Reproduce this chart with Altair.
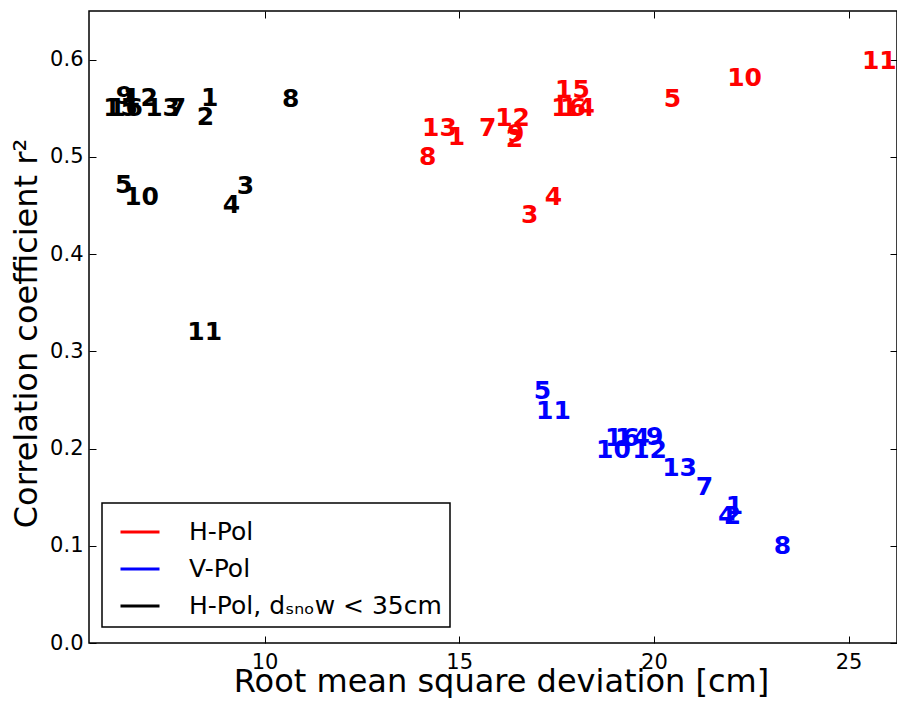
import altair as alt
import pandas as pd

# H-Pol (red)
labels_h = [1, 2, 3, 4, 5, 7, 8, 9, 10, 11, 12, 13, 14, 15, 16]
rmsd_h = [14.93, 16.42, 16.81, 17.42, 20.48, 15.73, 14.19, 16.45, 22.33, 25.79, 16.37, 14.49, 18.04, 17.91, 17.81]
r2_h = [0.520, 0.518, 0.440, 0.459, 0.560, 0.530, 0.500, 0.523, 0.581, 0.599, 0.540, 0.530, 0.550, 0.569, 0.550]

# V-Pol (blue)
labels_v = [1, 2, 4, 5, 7, 8, 9, 10, 11, 12, 13, 14, 16]
rmsd_v = [22.07, 22.02, 21.87, 17.14, 21.30, 23.30, 20.02, 18.96, 17.42, 19.89, 20.66, 19.45, 19.19]
r2_v = [0.141, 0.131, 0.131, 0.259, 0.160, 0.100, 0.212, 0.198, 0.239, 0.198, 0.180, 0.211, 0.211]

# H-Pol, d_snow < 35cm (black)
labels_s = [1, 2, 3, 4, 5, 7, 8, 9, 10, 11, 12, 13, 15, 16]
rmsd_s = [8.59, 8.48, 9.51, 9.15, 6.38, 7.76, 10.67, 6.40, 6.84, 8.46, 6.81, 7.38, 6.30, 6.43]
r2_s = [0.561, 0.541, 0.470, 0.450, 0.471, 0.550, 0.560, 0.563, 0.459, 0.320, 0.561, 0.550, 0.550, 0.550]

series_names = ["H-Pol", "V-Pol", "H-Pol, dₛₙₒw < 35cm"]
series_colors = ["#ff0000", "#0000ff", "#000000"]

x_ticks = [10, 15, 20, 25]
y_ticks = [0.0, 0.1, 0.2, 0.3, 0.4, 0.5, 0.6]

rows = []
for name, labs, xs, ys in [
    (series_names[0], labels_h, rmsd_h, r2_h),
    (series_names[1], labels_v, rmsd_v, r2_v),
    (series_names[2], labels_s, rmsd_s, r2_s),
]:
    for l, x, y in zip(labs, xs, ys):
        rows.append({"series": name, "label": str(l), "rmsd": x, "r2": y, "id": f"{name}-{l}"})
df = pd.DataFrame(rows)

xscale = alt.Scale(domain=[5.49, 26.245], nice=False, zero=False)
yscale = alt.Scale(domain=[0, 0.65], nice=False, zero=False)
cscale = alt.Scale(domain=series_names, range=series_colors)

font = "DejaVu Sans"

base = alt.Chart(df)

# invisible one-point lines: they carry the line-style legend and the inner top/right ticks
legend_lines = base.mark_line(strokeWidth=3).encode(
    x=alt.X("rmsd:Q", scale=xscale, axis=alt.Axis(
        orient="top", offset=-7, tickSize=7, domain=False, grid=False,
        values=x_ticks, labels=False, title=None, tickColor="black")),
    y=alt.Y("r2:Q", scale=yscale, axis=alt.Axis(
        orient="right", offset=-7, tickSize=7, domain=False, grid=False,
        values=y_ticks, labels=False, title=None, tickColor="black")),
    detail="id:N",
    color=alt.Color("series:N", scale=cscale, legend=alt.Legend(
        orient="none", legendX=13, legendY=492, title=None,
        symbolType="stroke", symbolSize=1521, symbolStrokeWidth=3,
        labelFontSize=25, labelFont=font, labelColor="black", labelOffset=28,
        labelLimit=0, padding=8, symbolOffset=9, rowPadding=3,
        strokeColor="black", fillColor="white")),
)

texts = base.mark_text(
    font=font, fontSize=25, fontWeight="bold", align="center", baseline="middle"
).encode(
    x=alt.X("rmsd:Q", scale=xscale, axis=alt.Axis(
        orient="bottom", offset=-7, tickSize=7, domain=False, grid=False,
        values=x_ticks, labelFontSize=21, labelPadding=8, labelFont=font,
        labelColor="black", tickColor="black",
        title="Root mean square deviation [cm]", titleFontSize=32,
        titleFontWeight="normal", titleFont=font, titleColor="black",
        titleBaseline="alphabetic", titleAlign="center", titleX=412, titleY=55)),
    y=alt.Y("r2:Q", scale=yscale, axis=alt.Axis(
        orient="left", offset=-7, tickSize=7, domain=False, grid=False,
        values=y_ticks, format=".1f", labelFontSize=21, labelPadding=6, labelFont=font,
        labelColor="black", tickColor="black",
        title="Correlation coefficient r²", titleFontSize=32,
        titleFontWeight="normal", titleFont=font, titleColor="black", titlePadding=6,
        titleY=322)),
    text="label:N",
    color=alt.Color("series:N", scale=cscale),
)

chart = alt.layer(legend_lines, texts).resolve_axis(
    x="independent", y="independent"
).properties(
    width=808, height=632,
    autosize=alt.AutoSizeParams(type="none"),
    padding={"left": 81, "top": 3, "right": 0, "bottom": 55},
).configure_view(stroke="black", strokeWidth=1.5).configure_legend(strokeWidth=1.5)

chart.save("out.html", embed_options={"renderer": "svg", "actions": False})
